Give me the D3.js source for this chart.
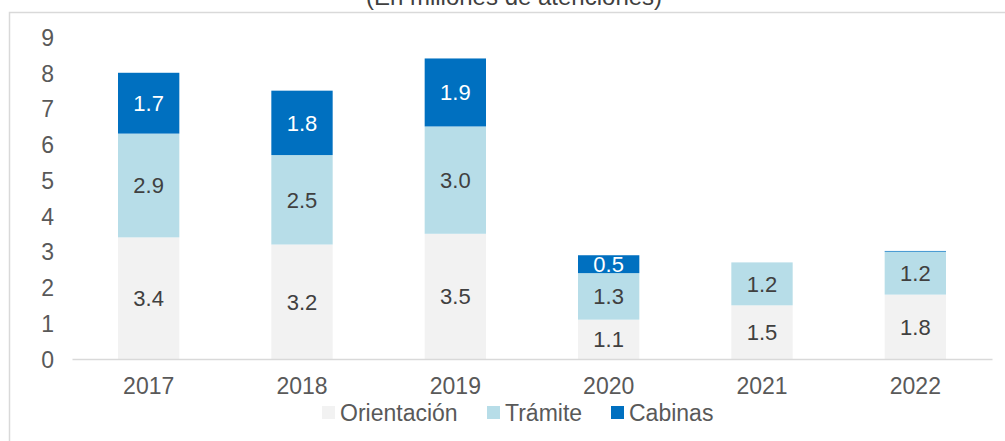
<!DOCTYPE html>
<html>
<head>
<meta charset="utf-8">
<script src="https://cdn.jsdelivr.net/npm/d3@7"></script>
<style>
  body { margin: 0; background: #fff; }
  svg { display: block; font-family: "Liberation Sans", Arial, sans-serif; }
</style>
</head>
<body>
<svg id="chart" width="1005" height="441"></svg>
<script>
// Data
const years = ["2017", "2018", "2019", "2020", "2021", "2022"];
const orientacion = [3.4, 3.2, 3.5, 1.1, 1.5, 1.8];
const tramite = [2.9, 2.5, 3.0, 1.3, 1.2, 1.2];
const cabinas = [1.7, 1.8, 1.9, 0.5, 0, 0.02];
const seriesNames = ["Orientación", "Trámite", "Cabinas"];
const yTicks = [0, 1, 2, 3, 4, 5, 6, 7, 8, 9];

const colors = ["#f2f2f2", "#b7dde8", "#0070c0"];
const labelColors = ["#404040", "#404040", "#ffffff"];

const rows = years.map((y, i) => ({
  year: y,
  "Orientación": orientacion[i],
  "Trámite": tramite[i],
  "Cabinas": cabinas[i]
}));

const svg = d3.select("#chart");

// outer frame (only top and left edges visible)
svg.append("rect")
  .attr("x", 9.5).attr("y", 12.5)
  .attr("width", 1100).attr("height", 600)
  .attr("fill", "none")
  .attr("stroke", "#d9d9d9")
  .attr("stroke-width", 1.5);

// title, partly cut off at the top
svg.append("text")
  .attr("x", 514).attr("y", 5)
  .attr("text-anchor", "middle")
  .style("font-size", "24px")
  .style("fill", "#404040")
  .text("(En millones de atenciones)");

const x = d3.scaleBand().domain(years).range([72, 992]).paddingInner(0.6).paddingOuter(0.3);
const y = d3.scaleLinear().domain([0, 9]).range([359, 37]);

const stack = d3.stack().keys(seriesNames)(rows);

// y axis labels
const yAxis = svg.append("g")
  .attr("transform", "translate(54,0)")
  .call(d3.axisLeft(y).tickValues(yTicks).tickSize(0).tickPadding(0));
yAxis.select(".domain").remove();
yAxis.selectAll("text")
  .style("font-size", "23px")
  .style("fill", "#595959")
  .style("font-family", "Liberation Sans, Arial, sans-serif")
  .attr("dy", "0.36em");

// bars
const layers = svg.append("g").selectAll("g")
  .data(stack)
  .enter().append("g")
  .attr("fill", (d, i) => colors[i]);

layers.selectAll("rect")
  .data(d => d)
  .enter().append("rect")
  .attr("x", d => x(d.data.year))
  .attr("y", d => y(d[1]))
  .attr("width", x.bandwidth())
  .attr("height", d => y(d[0]) - y(d[1]));

// data labels
stack.forEach((layer, i) => {
  svg.append("g").selectAll("text")
    .data(layer.filter(d => d[1] - d[0] >= 0.3))
    .enter().append("text")
    .attr("x", d => x(d.data.year) + x.bandwidth() / 2)
    .attr("y", d => (y(d[0]) + y(d[1])) / 2)
    .attr("dy", "0.36em")
    .attr("text-anchor", "middle")
    .style("font-size", "22px")
    .style("fill", labelColors[i])
    .text(d => (d[1] - d[0]).toFixed(1));
});

// x axis
const xAxis = svg.append("g")
  .attr("transform", "translate(0,359)")
  .call(d3.axisBottom(x).tickSize(0).tickPadding(19));
xAxis.select(".domain")
  .attr("stroke", "#d9d9d9")
  .attr("stroke-width", 1.5);
xAxis.selectAll("text")
  .style("font-size", "23px")
  .style("fill", "#595959")
  .style("font-family", "Liberation Sans, Arial, sans-serif");

// legend
const legendX = [322, 487, 611];
const legend = svg.append("g").selectAll("g")
  .data(seriesNames)
  .enter().append("g")
  .attr("transform", (d, i) => `translate(${legendX[i]},406)`);
legend.append("rect")
  .attr("width", 13).attr("height", 13)
  .attr("fill", (d, i) => colors[i]);
legend.append("text")
  .attr("x", 18).attr("y", 7)
  .attr("dy", "0.36em")
  .style("font-size", "23px")
  .style("fill", "#595959")
  .text(d => d);
</script>
</body>
</html>
